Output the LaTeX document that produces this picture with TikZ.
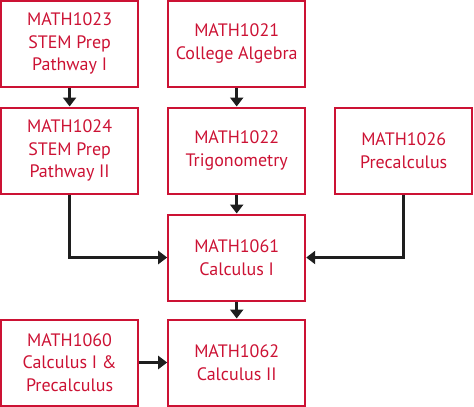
\documentclass[tikz,border=0pt]{standalone}
\usepackage{fontspec}
\setmainfont{PT Sans}
\usetikzlibrary{arrows.meta}
\definecolor{boxred}{RGB}{204,18,52}
\definecolor{arrblack}{RGB}{30,30,30}
\begin{document}
\begin{tikzpicture}[x=1pt,y=1pt,
  course/.style={draw=boxred, line width=2pt, text=boxred, minimum width=137pt, minimum height=86pt,
    inner sep=0pt, align=center, font=\fontsize{18}{22.5}\selectfont},
  arr/.style={draw=arrblack, line width=3pt, -{Triangle[length=9pt,width=13pt]}}]
\useasboundingbox (0,0) rectangle (474,-407);
\node[course] (m1023) at (69.6,-43.5) {MATH1023\\STEM Prep\\Pathway I};
\node[course] (m1021) at (236.7,-43.5) {MATH1021\\College Algebra};
\node[course] (m1024) at (69.6,-150.5) {MATH1024\\STEM Prep\\Pathway II};
\node[course] (m1022) at (236.7,-150.5) {MATH1022\\Trigonometry};
\node[course] (m1026) at (403.7,-150.5) {MATH1026\\Precalculus};
\node[course] (m1061) at (236.7,-257.5) {MATH1061\\Calculus I};
\node[course] (m1060) at (69.6,-362.5) {MATH1060\\Calculus I \&\\Precalculus};
\node[course] (m1062) at (236.7,-362.5) {MATH1062\\Calculus II};
\draw[arr] (m1023) -- (m1024);
\draw[arr] (m1021) -- (m1022);
\draw[arr] (m1022) -- (m1061);
\draw[arr] (m1061) -- (m1062);
\draw[arr] (m1024.south) |- (m1061.west);
\draw[arr] (m1026.south) |- (m1061.east);
\draw[arr] (m1060) -- (m1062);
\end{tikzpicture}
\end{document}
